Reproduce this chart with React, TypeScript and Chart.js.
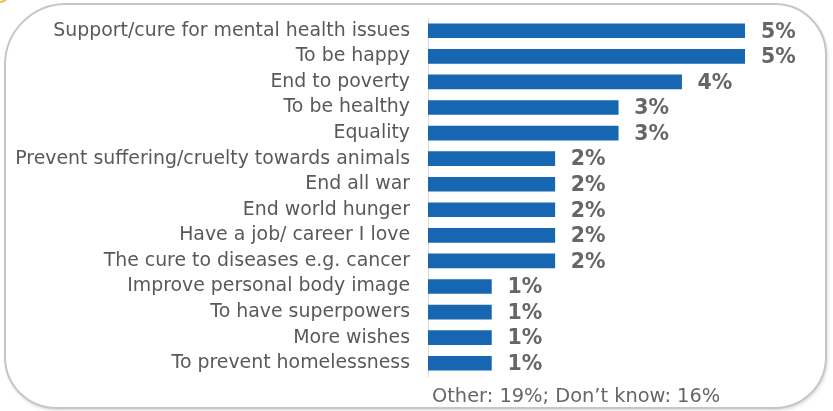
import React, { useEffect, useRef } from "react";
import { Chart, registerables } from "chart.js";

Chart.register(...registerables);

const categories = [
  "Support/cure for mental health issues",
  "To be happy",
  "End to poverty",
  "To be healthy",
  "Equality",
  "Prevent suffering/cruelty towards animals",
  "End all war",
  "End world hunger",
  "Have a job/ career I love",
  "The cure to diseases e.g. cancer",
  "Improve personal body image",
  "To have superpowers",
  "More wishes",
  "To prevent homelessness",
];
const values = [5, 5, 4, 3, 3, 2, 2, 2, 2, 2, 1, 1, 1, 1];
const valueLabels = values.map((v) => `${v}%`);
const footnote = "Other: 19%; Don\u2019t know: 16%";
const axisMax = 5;

const FONT = "'DejaVu Sans', Verdana, sans-serif";

const labelPlugin = {
  id: "valueLabels",
  afterDatasetsDraw(chart: any) {
    const ctx = chart.ctx;
    const meta = chart.getDatasetMeta(0);
    ctx.save();
    ctx.font = `bold 20.5px ${FONT}`;
    ctx.fillStyle = "#666666";
    ctx.textAlign = "left";
    ctx.textBaseline = "middle";
    meta.data.forEach((bar: any, i: number) => {
      ctx.fillText(valueLabels[i], bar.x + 16, bar.y + 1.5);
    });
    ctx.restore();
  },
  afterDraw(chart: any) {
    const ctx = chart.ctx;
    ctx.save();
    ctx.font = `19.4px ${FONT}`;
    ctx.fillStyle = "#666666";
    ctx.textAlign = "left";
    ctx.textBaseline = "alphabetic";
    ctx.fillText(footnote, chart.chartArea.left + 4, 402);
    ctx.restore();
  },
};

export default function App() {
  const ref = useRef<HTMLCanvasElement>(null);
  useEffect(() => {
    if (!ref.current) return;
    const chart = new Chart(ref.current, {
      type: "bar",
      data: {
        labels: categories,
        datasets: [
          {
            data: values,
            backgroundColor: "#1666B2",
            borderWidth: 0,
            barThickness: 14,
          },
        ],
      },
      options: {
        indexAxis: "y",
        animation: false,
        responsive: false,
        devicePixelRatio: 1,
        layout: { padding: { left: 0, right: 88, top: 18, bottom: 35 } },
        plugins: {
          legend: { display: false },
          tooltip: { enabled: false },
          title: { display: false },
        },
        scales: {
          x: { display: false, min: 0, max: axisMax },
          y: {
            afterFit: (s: any) => {
              s.width = 428;
              s.paddingTop = 0;
              s.paddingBottom = 0;
            },
            grid: { display: false, drawTicks: false },
            border: { display: true, color: "#d9d9d9", width: 1 },
            ticks: {
              color: "#595959",
              padding: 18,
              font: { family: FONT, size: 18.9 },
              autoSkip: false,
            },
          },
        },
      },
      plugins: [labelPlugin],
    } as any);
    return () => chart.destroy();
  }, []);

  return (
    <div
      style={{
        position: "fixed",
        left: 0,
        top: 0,
        width: 833,
        height: 411,
        background: "#ffffff",
        overflow: "hidden",
      }}
    >
      <div
        style={{
          position: "absolute",
          left: -8,
          top: -10,
          width: 16,
          height: 13,
          borderRadius: "50%",
          border: "2px solid #F3B53F",
          boxSizing: "border-box",
        }}
      />
      <div
        style={{
          position: "absolute",
          left: 4,
          top: 3,
          width: 823,
          height: 406,
          boxSizing: "border-box",
          border: "2px solid #c6c6c6",
          borderRadius: "62px 52px 52px 52px",
          background: "#ffffff",
          boxShadow: "1px 2px 3px rgba(0,0,0,0.12)",
        }}
      />
      <canvas
        ref={ref}
        width={833}
        height={411}
        style={{ position: "absolute", left: 0, top: 0, width: 833, height: 411 }}
      />
    </div>
  );
}
